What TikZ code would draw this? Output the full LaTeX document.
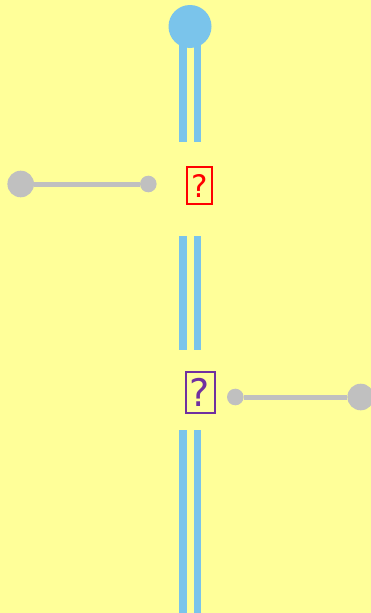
\documentclass[tikz,border=0pt]{standalone}
\usepackage{fontspec}
\setsansfont{DejaVu Sans}
\usepackage{tikz}
\usetikzlibrary{backgrounds}

\definecolor{paper}{RGB}{255,255,153}
\definecolor{pipeblue}{RGB}{122,196,235}
\definecolor{wiregray}{RGB}{192,192,192}
\definecolor{qpurple}{RGB}{112,48,160}

\begin{document}
\begin{tikzpicture}[x=1pt,y=-1pt,
	pipe/.style={draw=pipeblue, line width=7.3pt, double=paper, double distance=7pt},
	wire/.style={draw=wiregray, line width=5pt},
	bigdot/.style={circle, fill=wiregray, inner sep=0pt, minimum size=26.6pt},
	smalldot/.style={circle, fill=wiregray, inner sep=0pt, minimum size=16.6pt},
	qbox/.style={rectangle, draw, line width=2pt, inner sep=0pt, font=\sffamily}]
	\useasboundingbox (0,0) rectangle (371,613);

	\begin{scope}[every node/.style={circle, fill=pipeblue, inner sep=0pt, minimum size=43pt}]
		\node (top) at (190,26.5) {};
	\end{scope}
	\coordinate (bottom) at (190,613);

	\node[qbox, draw=red, text=red, minimum width=25.7pt, minimum height=36.7pt,
	      font=\sffamily\fontsize{31}{31}\selectfont] (q1) at (199.5,185.7) {?};
	\node[qbox, draw=qpurple, text=qpurple, minimum width=29pt, minimum height=41pt,
	      font=\sffamily\fontsize{38}{38}\selectfont] (q2) at (200,392) {?};

	\begin{scope}[on background layer]
		\fill[paper] (0,0) rectangle (371,613);
		\draw[pipe, shorten >=24.6pt] (top.center) -- (top.center |- q1.north);
		\draw[pipe, shorten <=31pt, shorten >=20.7pt] (q1.south -| top) -- (q2.north -| top);
		\draw[pipe, shorten <=16.6pt] (q2.south -| top) -- (bottom);
	\end{scope}

	\node[bigdot] (left1) at (20.7,184) {};
	\node[smalldot] (left2) at (148.3,184) {};
	\node[smalldot] (right1) at (235.3,397) {};
	\node[bigdot] (right2) at (360.7,397) {};

	\begin{scope}[every edge/.style={wire}]
		\path (left1) edge (left2);
		\path (right1) edge (right2);
	\end{scope}
\end{tikzpicture}
\end{document}
